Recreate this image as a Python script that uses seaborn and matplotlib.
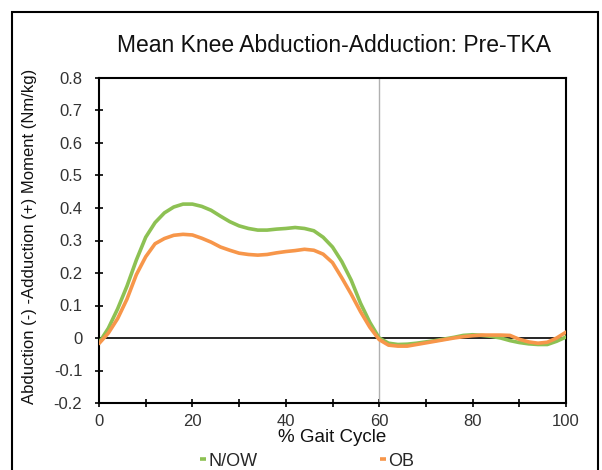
import numpy as np
import pandas as pd
import matplotlib
matplotlib.use("Agg")
import matplotlib.pyplot as plt
import seaborn as sns
from matplotlib.patches import Rectangle

gait_pct = [0, 2, 4, 6, 8, 10, 12, 14, 16, 18, 20, 22, 24, 26, 28, 30, 32, 34, 36, 38,
            40, 42, 44, 46, 48, 50, 52, 54, 56, 58, 60, 62, 64, 66, 68, 70, 72, 74, 76,
            78, 80, 82, 84, 86, 88, 90, 92, 94, 96, 98, 100]

now_moment = [-0.015, 0.03, 0.09, 0.16, 0.24, 0.31, 0.355, 0.385, 0.403, 0.412, 0.412,
              0.405, 0.393, 0.375, 0.358, 0.345, 0.337, 0.332, 0.332, 0.335, 0.337,
              0.34, 0.337, 0.33, 0.31, 0.28, 0.235, 0.178, 0.107, 0.048, 0.0, -0.016,
              -0.02, -0.019, -0.016, -0.012, -0.008, -0.003, 0.002, 0.008, 0.01, 0.008,
              0.005, 0.0, -0.008, -0.014, -0.018, -0.02, -0.02, -0.01, 0.003]

ob_moment = [-0.017, 0.015, 0.06, 0.12, 0.195, 0.25, 0.29, 0.306, 0.316, 0.319, 0.317,
             0.307, 0.295, 0.28, 0.27, 0.261, 0.257, 0.255, 0.257, 0.262, 0.266, 0.269,
             0.273, 0.27, 0.258, 0.232, 0.185, 0.135, 0.081, 0.033, -0.005, -0.022,
             -0.025, -0.025, -0.02, -0.015, -0.01, -0.005, 0.0, 0.004, 0.007, 0.009,
             0.009, 0.009, 0.008, -0.004, -0.012, -0.016, -0.013, 0.0, 0.018]

groups = ["N/OW", "OB"]
colors = {"N/OW": "#8DC153", "OB": "#F7964A"}

df = pd.concat([
    pd.DataFrame({"pct": gait_pct, "moment": now_moment, "group": groups[0]}),
    pd.DataFrame({"pct": gait_pct, "moment": ob_moment, "group": groups[1]}),
])

sns.set_style("ticks")
plt.rcParams["font.family"] = ["Liberation Sans", "DejaVu Sans"]

fig = plt.figure(figsize=(6.02, 4.70), dpi=100)
ax = fig.add_axes([99 / 602, 1 - 403 / 470, (566 - 99) / 602, (403 - 78) / 470])

ax.axvline(60, color="#b0b0b0", lw=1.0, zorder=1)
ax.axhline(0, color="black", lw=1.2, zorder=1)

sns.lineplot(data=df, x="pct", y="moment", hue="group", palette=colors,
             hue_order=groups, lw=2.6, ax=ax, legend=False, zorder=3)

ax.set_xlim(0, 100)
ax.set_ylim(-0.2, 0.8)
ax.set_xticks(np.arange(0, 101, 20))
ax.set_xticks(np.arange(0, 101, 10), minor=True)
ax.set_yticks(np.arange(-0.2, 0.81, 0.1))
ax.set_yticklabels(["-0.2", "-0.1", "0", "0.1", "0.2", "0.3", "0.4", "0.5", "0.6", "0.7", "0.8"])
ax.tick_params(axis="both", which="both", direction="inout", length=6, width=1.2,
               colors="black", labelcolor="#333333", labelsize=12)
ax.tick_params(axis="y", pad=9)
ax.tick_params(axis="x", pad=5)
for s in ax.spines.values():
    s.set_visible(True)
    s.set_linewidth(1.5)
    s.set_color("black")

ax.set_xlabel("% Gait Cycle", fontsize=13.5, color="#111111", va="center")
ax.xaxis.set_label_coords(0.5, (403 - 437) / 325)
ax.set_ylabel("Abduction (-) -Adduction (+) Moment (Nm/kg)", fontsize=12,
              color="#111111", va="center")
ax.yaxis.set_label_coords((30 - 99) / 467, (403 - 236.5) / 325)

fig.text(334 / 602, 1 - 45 / 470, "Mean Knee Abduction-Adduction: Pre-TKA",
         fontsize=16.5, ha="center", va="center", color="#111111")

handles = [plt.Line2D([], [], color=colors[g], lw=2.6, solid_capstyle="butt")
           for g in groups]
fig.legend(handles, groups, loc="center", bbox_to_anchor=(0.51, 1 - 461 / 470), ncol=2,
           frameon=False, handlelength=0.35, handletextpad=0.1, columnspacing=6.8,
           fontsize=13, borderpad=0)

fig.patches.append(Rectangle((12 / 602, -0.05), 586 / 602, 1.05 - 12 / 470,
                             transform=fig.transFigure, fill=False, lw=1.5,
                             edgecolor="black", zorder=0))

fig.savefig("out.png", dpi=100)
